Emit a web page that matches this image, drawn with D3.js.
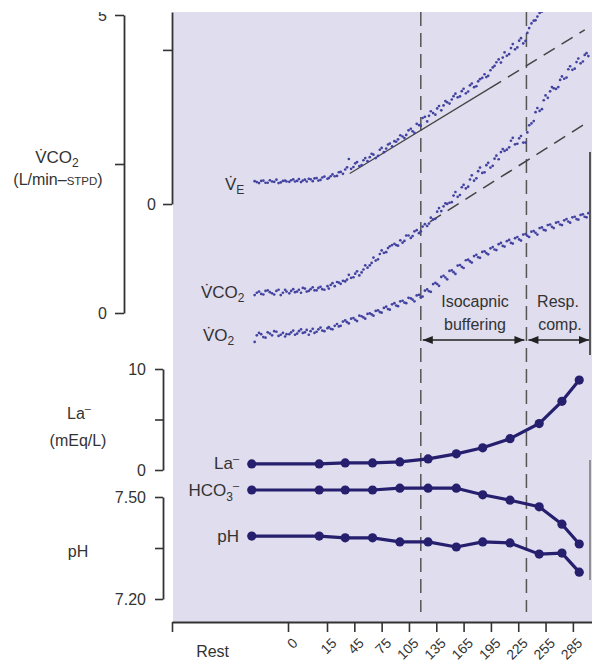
<!DOCTYPE html>
<html>
<head>
<meta charset="utf-8">
<script src="https://cdn.jsdelivr.net/npm/d3@7"></script>
<style>
  body { margin: 0; background: #fff; }
  svg { display: block; font-family: "Liberation Sans", Arial, Helvetica, sans-serif; }
</style>
</head>
<body>
<div id="chart"></div>
<script>
// ---- data ----
// breath times (s from start of exercise; negative = rest), two interleaved runs of breaths
const breathTimes = [-23,-20,-17,-14,-11,-8,-5,-2,
  0.5,2,3.5,5,6.5,8,9.5,11,12.5,14,
  17,21,26,30,35,39,44,48,53,57,
  62,66,71,75,80,84,89,93,98,102,
  107,111,116,120,125,129,134,138,143,147,
  152,156,161,165,170,174,179,183,188,192,
  197,201,206,210,215,219,224,228,233,237,
  242,246,251,255,260,264,269,273,278,282,
  287,291,296,300];
const breathTimes2 = [-21.5,-18.5,-15.5,-12.5,-9.5,-6.5,-3.5,-1,
  1.2,2.7,4.2,5.7,7.2,8.7,10.2,11.7,13.2,15.5,
  19,23.5,28,32.5,37,41.5,46,50.5,55,59.5,
  64,68.5,73,77.5,82,86.5,91,95.5,100,104.5,
  109,113.5,118,122.5,127,131.5,136,140.5,145,149.5,
  154,158.5,163,167.5,172,176.5,181,185.5,190,194.5,
  199,203.5,208,212.5,217,221.5,226,230.5,235,239.5,
  244,248.5,253,257.5,262,266.5,271,275.5,280,284.5,
  289,293.5,298,302];

// VE (L/min)
const veValues = [7.4,6.8,7.6,6.9,7.3,7.9,7.0,7.6,
  7.2,8.0,7.5,7.1,7.9,8.2,7.4,8.4,7.8,8.9,
  8.4,9.6,9.1,10.4,11.2,14.6,12.0,13.6,12.6,14.9,
  15.2,16.0,15.6,18.2,18.0,19.6,20.4,21.0,21.9,22.4,
  24.4,23.1,25.6,27.9,26.8,30.1,29.0,31.8,32.0,33.0,
  33.9,35.8,34.9,37.4,36.5,39.1,38.2,40.5,42.1,41.6,
  44.3,46.0,45.9,49.2,48.6,51.9,50.8,53.8,52.9,57.1,
  59.5,60.8,62.4,65.2,68,70,72,74,76,78,
  80,82,84,86];
const veValues2 = [7.1,7.5,6.9,7.7,7.2,6.8,7.5,7.3,
  7.7,7.3,8.1,7.6,7.3,8.0,8.3,7.6,8.6,8.2,
  9.0,9.0,10.3,9.8,11.9,11.4,13.2,12.3,14.2,13.9,
  16.3,14.9,17.6,16.8,19.3,18.7,20.2,22.3,21.4,23.9,
  23.6,26.0,25.4,28.3,28.6,29.5,31.0,30.4,33.4,32.6,
  35.0,34.6,36.6,35.9,38.5,37.9,39.8,40.9,41.2,43.4,
  44.8,46.9,47.5,48.1,50.6,50.2,53.0,52.1,55.5,58.6,
  59.6,62.0,63.5,66.5,69,71,73,75,77,79,
  81,83,85,87];

// VCO2 (L/min STPD)
const vco2Values = [0.30,0.36,0.31,0.38,0.33,0.37,0.30,0.39,
  0.33,0.40,0.36,0.34,0.41,0.37,0.43,0.38,0.44,0.39,
  0.41,0.50,0.52,0.49,0.53,0.64,0.60,0.70,0.68,0.80,
  0.80,0.93,0.90,1.05,1.02,1.12,1.16,1.13,1.18,1.30,
  1.26,1.37,1.34,1.45,1.46,1.60,1.58,1.76,1.79,1.83,
  1.86,2.03,1.98,2.15,2.12,2.31,2.26,2.44,2.36,2.52,
  2.47,2.64,2.70,2.72,2.78,2.94,2.84,2.97,2.86,3.15,
  3.22,3.44,3.42,3.65,3.72,3.77,3.79,3.97,3.95,4.14,
  4.10,4.27,4.22,4.36];
const vco2Values2 = [0.34,0.32,0.37,0.35,0.31,0.39,0.34,0.36,
  0.37,0.35,0.39,0.42,0.36,0.40,0.38,0.42,0.40,0.45,
  0.47,0.45,0.51,0.54,0.56,0.59,0.66,0.63,0.73,0.76,
  0.84,0.88,0.99,1.01,1.09,1.14,1.14,1.22,1.21,1.30,
  1.29,1.39,1.37,1.49,1.50,1.57,1.70,1.71,1.84,1.85,
  1.97,1.95,2.11,2.09,2.24,2.22,2.38,2.35,2.48,2.44,
  2.59,2.58,2.75,2.74,2.89,2.83,2.93,2.86,3.03,3.18,
  3.37,3.39,3.57,3.61,3.79,3.76,3.91,3.93,4.09,4.08,
  4.21,4.19,4.33,4.31];

// VO2 (L/min STPD, drawn offset below VCO2)
const vo2Values = [0.22,0.37,0.30,0.38,0.33,0.39,0.34,0.31,
  0.35,0.41,0.36,0.43,0.38,0.34,0.44,0.39,0.46,0.40,
  0.47,0.43,0.52,0.49,0.58,0.53,0.62,0.57,0.65,0.61,
  0.70,0.66,0.75,0.71,0.81,0.76,0.87,0.82,0.91,0.87,
  0.95,0.90,1.01,0.98,1.10,1.06,1.21,1.16,1.33,1.27,
  1.42,1.36,1.51,1.46,1.60,1.55,1.68,1.63,1.74,1.69,
  1.81,1.76,1.88,1.82,1.93,1.87,1.98,1.92,2.03,1.98,
  2.08,2.02,2.14,2.09,2.19,2.13,2.23,2.18,2.28,2.22,
  2.32,2.27,2.36,2.31];
const vo2Values2 = [0.33,0.35,0.29,0.36,0.40,0.32,0.37,0.35,
  0.38,0.34,0.40,0.37,0.42,0.40,0.37,0.43,0.41,0.45,
  0.44,0.49,0.48,0.56,0.55,0.61,0.59,0.66,0.63,0.69,
  0.68,0.74,0.72,0.79,0.77,0.85,0.83,0.90,0.88,0.96,
  0.93,1.00,0.97,1.08,1.07,1.19,1.19,1.31,1.30,1.41,
  1.39,1.50,1.48,1.59,1.57,1.66,1.64,1.73,1.71,1.79,
  1.77,1.86,1.83,1.91,1.88,1.96,1.94,2.02,2.00,2.07,
  2.05,2.13,2.10,2.18,2.15,2.22,2.19,2.26,2.24,2.31,
  2.28,2.35,2.32,2.38];

// fitted lines
const veFitTimes = [40, 194, 298];
const veFitValues = [9.9, 37.6, 56.5];
const vco2FitTimes = [128, 298];
const vco2FitValues = [1.53, 3.17];

// blood samples
const sampleTimes = [-25, 12, 35, 65, 95, 126, 157, 186, 216, 248, 273, 292];
const laValues   = [0.6, 0.6, 0.7, 0.7, 0.8, 1.1, 1.6, 2.2, 3.1, 4.6, 6.8, 8.9];
const hco3Values = [24, 24, 24, 24, 24.3, 24.3, 24.3, 23.2, 22.3, 21.2, 18.3, 15.0];
const phValues   = [7.385, 7.385, 7.38, 7.38, 7.368, 7.368, 7.353, 7.368, 7.365, 7.332, 7.335, 7.279];

const thresholdTimes = [118, 234];
const xTickValues = [-80, 0, 15, 45, 75, 105, 135, 165, 195, 225, 255, 285];

// ---- layout ----
const W = 592, H = 665;
const ink = "#333";
const navy = "#251f6e";
const dotCol = "#4242a0";

const svg = d3.select("#chart").append("svg")
  .attr("width", W).attr("height", H);

const x = d3.scaleLinear().domain([-80, 0, 15, 306]).range([172, 288, 327, 592]);

const yVCO2 = d3.scaleLinear().domain([0, 5]).range([313, 15]);
const yVO2  = d3.scaleLinear().domain([0, 5]).range([355, 57]);
const yVE   = d3.scaleLinear().domain([0, 62.3]).range([204, 12]);
const yLa   = d3.scaleLinear().domain([0, 10]).range([470, 369]);
const yPH   = d3.scaleLinear().domain([7.20, 7.50]).range([599, 497]);
const yHCO3 = d3.scaleLinear().domain([15, 24]).range([544, 490]);

// background
svg.append("rect").attr("x", 173).attr("y", 12).attr("width", W - 173).attr("height", 610)
  .attr("fill", "#dfddee");

svg.append("clipPath").attr("id", "plotClip")
  .append("rect").attr("x", 173).attr("y", 12).attr("width", W - 173).attr("height", 610);

// threshold dashed lines
svg.append("g").selectAll("line").data(thresholdTimes).join("line")
  .attr("x1", d => x(d)).attr("x2", d => x(d))
  .attr("y1", 12).attr("y2", 612)
  .attr("stroke", "#555").attr("stroke-width", 1.5)
  .attr("stroke-dasharray", "14,7");

// fitted lines
const fitLine = d3.line();
const vePts = veFitTimes.map((t, i) => [x(t), yVE(veFitValues[i])]);
svg.append("path").attr("d", fitLine(vePts.slice(0, 2)))
  .attr("fill", "none").attr("stroke", "#444").attr("stroke-width", 1.2);
svg.append("path").attr("d", fitLine(vePts.slice(1)))
  .attr("fill", "none").attr("stroke", "#444").attr("stroke-width", 1.5)
  .attr("stroke-dasharray", "13,8");
const vco2Pts = vco2FitTimes.map((t, i) => [x(t), yVCO2(vco2FitValues[i])]);
svg.append("path").attr("d", fitLine(vco2Pts))
  .attr("fill", "none").attr("stroke", "#444").attr("stroke-width", 1.5)
  .attr("stroke-dasharray", "13,8");

// breath-by-breath scatter
function scatter(times, values, yScale) {
  svg.append("g").attr("clip-path", "url(#plotClip)")
    .selectAll("circle").data(values).join("circle")
    .attr("cx", (d, i) => x(times[i]))
    .attr("cy", d => yScale(d))
    .attr("r", 1.35)
    .attr("fill", dotCol);
}
scatter(breathTimes, veValues, yVE);
scatter(breathTimes2, veValues2, yVE);
scatter(breathTimes, vco2Values, yVCO2);
scatter(breathTimes2, vco2Values2, yVCO2);
scatter(breathTimes, vo2Values, yVO2);
scatter(breathTimes2, vo2Values2, yVO2);

// blood value lines
function series(values, yScale) {
  const line = d3.line().x((d, i) => x(sampleTimes[i])).y(d => yScale(d));
  svg.append("path").datum(values).attr("d", line)
    .attr("fill", "none").attr("stroke", navy).attr("stroke-width", 3.2)
    .attr("stroke-linejoin", "round");
  svg.append("g").selectAll("circle").data(values).join("circle")
    .attr("cx", (d, i) => x(sampleTimes[i]))
    .attr("cy", d => yScale(d))
    .attr("r", 4.6).attr("fill", navy);
}
series(laValues, yLa);
series(hco3Values, yHCO3);
series(phValues, yPH);

// arrows
const defs = svg.append("defs");
defs.append("marker").attr("id", "arr")
  .attr("viewBox", "0 0 10 8").attr("refX", 10).attr("refY", 4)
  .attr("markerWidth", 11).attr("markerHeight", 8).attr("markerUnits", "userSpaceOnUse")
  .attr("orient", "auto-start-reverse")
  .append("path").attr("d", "M0,0L10,4L0,8Z").attr("fill", "#222");
const arrowY = 340;
[[x(thresholdTimes[0]) + 2, x(thresholdTimes[1]) - 2], [x(thresholdTimes[1]) + 2, 589]].forEach(s => {
  svg.append("line").attr("x1", s[0]).attr("x2", s[1]).attr("y1", arrowY).attr("y2", arrowY)
    .attr("stroke", "#222").attr("stroke-width", 1.6)
    .attr("marker-start", "url(#arr)").attr("marker-end", "url(#arr)");
});

// axes
function styleAxis(g, fs) {
  g.select(".domain").attr("stroke", ink).attr("stroke-width", 1.8);
  g.selectAll(".tick line").attr("stroke", ink).attr("stroke-width", 1.6);
  g.selectAll(".tick text").attr("fill", ink).attr("font-size", fs || 16)
    .attr("font-family", "Liberation Sans, Arial, sans-serif");
}
const fmt = m => d => (m[d] !== undefined ? m[d] : "");

svg.append("g").attr("transform", "translate(124,0)")
  .call(d3.axisLeft(yVCO2).tickValues([0, 2.5, 5]).tickSize(9).tickSizeOuter(0).tickPadding(8)
    .tickFormat(fmt({0: "0", 5: "5"})))
  .call(g => styleAxis(g));

svg.append("g").attr("transform", "translate(172,0)")
  .call(d3.axisLeft(yVE).tickValues([0, 50]).tickSize(9).tickSizeOuter(0).tickPadding(7)
    .tickFormat(fmt({0: "0"})))
  .call(g => styleAxis(g));

svg.append("g").attr("transform", "translate(163,0)")
  .call(d3.axisLeft(yLa).tickValues([0, 5, 10]).tickSize(8).tickSizeOuter(0).tickPadding(9)
    .tickFormat(fmt({0: "0", 10: "10"})))
  .call(g => styleAxis(g));

svg.append("g").attr("transform", "translate(163,0)")
  .call(d3.axisLeft(yPH).tickValues([7.20, 7.35, 7.50]).tickSize(8).tickSizeOuter(0).tickPadding(9)
    .tickFormat(d => d === 7.35 ? "" : d3.format(".2f")(d)))
  .call(g => styleAxis(g));

const xAxis = svg.append("g").attr("transform", "translate(0,622)")
  .call(d3.axisBottom(x).tickValues(xTickValues).tickSize(10).tickSizeOuter(0)
    .tickFormat(d => d < 0 ? "" : String(d)))
  .call(g => styleAxis(g, 14));
xAxis.selectAll(".tick text")
  .attr("text-anchor", "end").attr("x", 0).attr("y", 0).attr("dy", 0)
  .attr("transform", "translate(10,22) rotate(-45)");

// text labels
function label(px, py, parts, anchor, size) {
  const t = svg.append("text").attr("x", px).attr("y", py)
    .attr("text-anchor", anchor || "start")
    .attr("font-size", size || 16).attr("fill", ink);
  parts.forEach(p => {
    const s = t.append("tspan").text(p.t);
    if (p.dy) s.attr("dy", p.dy);
    if (p.s) s.attr("font-size", p.s);
  });
  return t;
}
const VDOT = "V\u0307";

label(57, 163, [{t: VDOT + "CO"}, {t: "2", dy: 4, s: 12}], "middle", 17);
label(58, 185, [{t: "(L/min–"}, {t: "STPD", s: 11.5}, {t: ")"}], "middle", 16);

label(225, 190, [{t: VDOT}, {t: "E", dy: 4, s: 12}], "start", 17);
label(201, 298, [{t: VDOT + "CO"}, {t: "2", dy: 4, s: 12}], "start", 17);
label(203, 341, [{t: VDOT + "O"}, {t: "2", dy: 4, s: 12}], "start", 17);

label(475, 307, [{t: "Isocapnic"}], "middle", 16);
label(475, 330, [{t: "buffering"}], "middle", 16);
label(558, 307, [{t: "Resp."}], "middle", 16);
label(560, 330, [{t: "comp."}], "middle", 16);

label(79, 419, [{t: "La"}, {t: "–", dy: -7, s: 11}], "middle", 16);
label(78, 446, [{t: "(mEq/L)"}], "middle", 16);
label(78, 557, [{t: "pH"}], "middle", 16);

label(239, 469, [{t: "La"}, {t: "–", dy: -7, s: 11}], "end", 17);
label(239, 496, [{t: "HCO"}, {t: "3", dy: 5, s: 12}, {t: "–", dy: -12, s: 11}], "end", 17);
label(239, 542, [{t: "pH"}], "end", 17);

label(x(-52), 657, [{t: "Rest"}], "middle", 16);

// right-edge borders of the neighbouring panel
svg.append("line").attr("x1", 590).attr("x2", 590).attr("y1", 152).attr("y2", 355)
  .attr("stroke", "#555").attr("stroke-width", 2);
svg.append("line").attr("x1", 590).attr("x2", 590).attr("y1", 460).attr("y2", 580)
  .attr("stroke", "#777").attr("stroke-width", 1.5);

// cropped top edge
svg.append("rect").attr("x", 0).attr("y", 0).attr("width", W).attr("height", 12).attr("fill", "#fff");
</script>
</body>
</html>
